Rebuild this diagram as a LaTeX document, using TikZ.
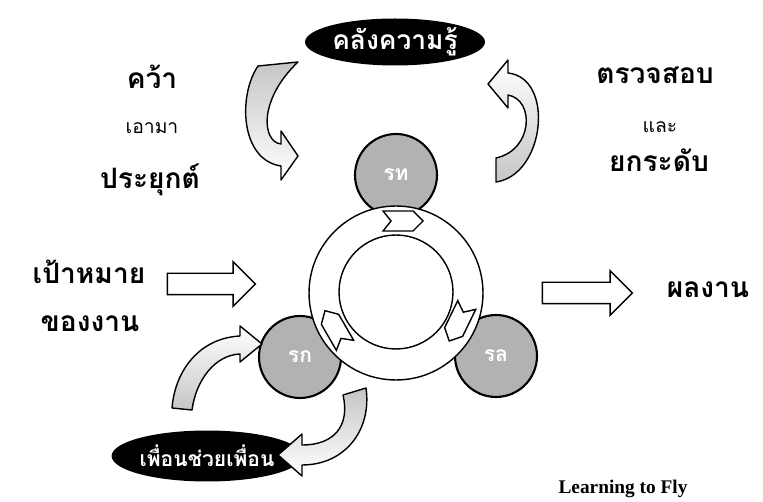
\documentclass[tikz,border=0pt]{standalone}
\usepackage{fontspec}
\usetikzlibrary{shapes.geometric,shapes.arrows}
\newfontfamily\thaifont[Script=Thai]{Loma}
\newfontfamily\flyfont{Liberation Serif}

\begin{document}
\begin{tikzpicture}[x=0.02cm,y=-0.02cm,
  word/.style={font=\thaifont\bfseries\fontsize{16}{18}\selectfont,inner sep=0pt},
  note/.style={font=\thaifont\fontsize{11}{13}\selectfont,inner sep=0pt},
  store/.style={ellipse,fill=black,text=white,inner sep=0pt,
    font=\thaifont\bfseries\fontsize{#1}{18}\selectfont},
  phase/.style={circle,draw,line width=1.2pt,fill=gray!60,minimum size=1.64cm,
    text=white,font=\thaifont\bfseries\fontsize{12}{14}\selectfont},
  block/.style={single arrow,draw,thick,fill=white,minimum height=#1,
    minimum width=0.88cm,single arrow head extend=0.23cm,inner xsep=0pt,inner ysep=0.2cm},
  turn/.style={draw,thick,line join=round,#1},
]
  \useasboundingbox (0,0) rectangle (763,502);

  % stores of knowledge
  \node[store=15,minimum width=3.6cm,minimum height=0.94cm] (assets) at (395,42) {คลังความรู้};
  \node[store=12,minimum width=2.64cm,minimum height=1.02cm] (peers) at (207,456) {เพื่อนช่วยเพื่อน};

  % side texts
  \node[word] (grab) at (152,77) {คว้า};
  \node[note] (bring) at (152,128) {เอามา};
  \node[word] (apply) at (150,180) {ประยุกต์};
  \node[word] (check) at (655,75) {ตรวจสอบ};
  \node[note] (and) at (660,127) {และ};
  \node[word] (raise) at (659,160) {ยกระดับ};
  \node[word] (goal) at (89,272) {เป้าหมาย};
  \node[word] (goal2) at (90,324) {ของงาน};
  \node[word] (result) at (708,290) {ผลงาน};
  \node[font=\flyfont\bfseries\fontsize{11}{13}\selectfont] (fly) at (623,489) {Learning to Fly};

  % the learning cycle
  \node[phase] (during) at (396,175) {รท};
  \node[phase] (before) at (300,357) {รก};
  \node[phase] (after) at (496,356) {รล};
  \node[circle,draw,thick,fill=white,minimum size=3.48cm] (ring) at (396,293) {};
  \node[circle,draw,thick,minimum size=2.28cm] (hub) at (396,292) {};
  \foreach \p/\a in {{(403,221)}/0,{(458,323)}/-116,{(335,328)}/120}
    \draw[thick,fill=white,shift={\p},rotate=\a]
      (-20,-10) -- (10,-10) -- (20,0) -- (10,10) -- (-20,10) -- (-12,0) -- cycle;

  % in and out
  \node[block=1.76cm] (in) at (206,284) {};
  \node[block=1.8cm] (out) at (582,293) {};

  % curved arrows
  \path[turn={top color=gray!45,bottom color=white}]
    (258,66) .. controls (238,95) and (240,160) .. (281,166) -- (281,180) -- (298,156)
    -- (281,131) -- (281,144) .. controls (262,142) and (258,100) .. (298,62) -- cycle;
  \path[turn={bottom color=gray!45,top color=white}]
    (496,182) .. controls (545,175) and (555,78) .. (508,73) -- (508,60) -- (488,84)
    -- (508,108) -- (508,95) .. controls (535,100) and (533,150) .. (496,158) -- cycle;
  \path[turn={bottom color=gray!45,top color=white}]
    (172,408) .. controls (175,370) and (200,338) .. (240,336) -- (240,326) -- (262,344)
    -- (240,362) -- (240,354) .. controls (215,355) and (196,380) .. (192,410) -- cycle;
  \path[turn={top color=gray!45,bottom color=white}]
    (343,395) -- (366,388) .. controls (372,430) and (345,465) .. (302,465) -- (302,476)
    -- (278,455) -- (302,434) -- (302,445) .. controls (335,445) and (350,425) .. (343,395) -- cycle;
\end{tikzpicture}
\end{document}
